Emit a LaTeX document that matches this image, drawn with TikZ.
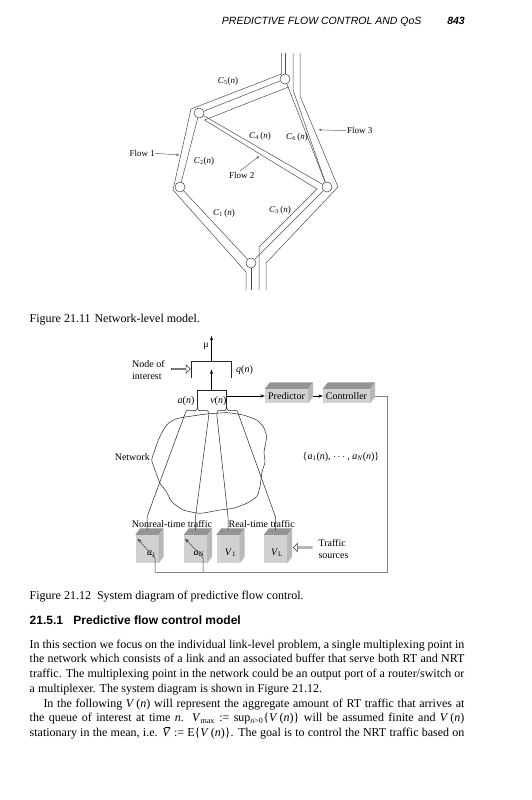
\documentclass[tikz,border=0pt]{standalone}
\usepackage{fontspec}
\setmainfont{Liberation Serif}
\newfontfamily\hsans{Liberation Sans}
\usetikzlibrary{arrows.meta,shapes.arrows}
\newcommand{\ii}[1]{\textit{#1}}
\newcommand{\sbs}[1]{\textsubscript{#1}}
\newcommand{\vbarx}{\makebox[0pt][l]{\hspace{2.6pt}\rule[9.2pt]{5.4pt}{0.45pt}}\textit{V}}
\newcommand{\cubefaces}[1]{%
  \fill[cubetop] (#1.north west) -- ([shift={(5,-6.5)}]#1.north west) -- ([shift={(5,-6.5)}]#1.north east) -- (#1.north east) -- cycle;
  \fill[cubeside] (#1.north east) -- ([shift={(5,-6.5)}]#1.north east) -- ([shift={(5,-6.5)}]#1.south east) -- (#1.south east) -- cycle;}
\begin{document}
\begin{tikzpicture}[x=1pt,y=-1pt,
  net/.style={draw=black!70,line width=0.5pt},
  nd/.style={circle,draw=black!75,fill=white,line width=0.5pt,minimum size=10pt,inner sep=0pt},
  labnine/.style={font=\fontsize{9}{10}\selectfont,inner sep=0pt},
  labten/.style={font=\fontsize{10}{12}\selectfont,inner sep=0pt},
  garrow/.style={draw=black!60,line width=0.5pt,-{Stealth[length=3.5pt,width=2.6pt]}},
  barrow/.style={draw=black,line width=0.5pt,-{Stealth[length=4.5pt,width=3.2pt]}},
  wire/.style={draw=black!85,line width=0.5pt},
  fb/.style={draw=black!50,line width=0.6pt},
  cubefront/.style={fill=black!18,inner sep=0pt,font=\fontsize{10}{12}\selectfont},
  cubetop/.style={fill=black!42},
  cubeside/.style={fill=black!28},
  hollow/.style={single arrow,draw=black!80,fill=white,line width=0.5pt,minimum height=19pt,minimum width=8.5pt,single arrow head extend=1.8pt,single arrow head indent=0pt,inner sep=0pt},
  body/.style={font=\fontsize{12}{14}\selectfont,anchor=base west,inner sep=0pt},
]
\useasboundingbox (0,0) rectangle (531,800);
\fill[white] (0,0) rectangle (531,800);

% ---------- running head ----------
\node[anchor=base east,inner sep=0pt,font=\hsans\itshape\fontsize{10.5}{12}\selectfont] (hdr) at (421.7,24.5) {PREDICTIVE FLOW CONTROL AND QoS};
\node[anchor=base east,inner sep=0pt,font=\hsans\bfseries\itshape\fontsize{10.5}{12}\selectfont] (pg) at (465,24.5) {843};

% ---------- Figure 21.11 ----------
\node[nd] (T) at (285,79) {};
\node[nd] (UL) at (199,113) {};
\node[nd] (LL) at (180,187) {};
\node[nd] (R) at (327,187) {};
\node[nd] (B) at (251,263) {};
\coordinate (Ttop) at (285,53);
\coordinate (Bbot) at (251,290);

% flow 1 outer wall
\draw[net] (281.5,53) -- (281.5,74) -- (191,109) -- (173,190) -- (246,272) -- (246,290);
% flow 3 walls
\draw[net] (293,53) -- (293,90) -- (R);
\draw[net] (300,53) -- (300,96) -- (338,187) -- (266,263) -- (266,290);
% flow 2 wall
\draw[net] (288.5,87) -- (204.5,120) -- (317,189) -- (259,247) -- (259,290);
% links
\draw[net] (Ttop) -- (T);
\draw[net] (T) -- (UL);
\draw[net] (UL) -- (LL);
\draw[net] (LL) -- (B);
\draw[net] (B) -- (Bbot);
\draw[net] (T) -- (R);
\draw[net] (UL) -- (R);
\draw[net] (R) -- (B);

\node[labnine] (c5) at (228,81.7) {\ii{C}\sbs{5}(\ii{n})};
\node[labnine] (c4) at (260,136.7) {\ii{C}\sbs{4}\,(\ii{n})};
\node[labnine] (c6) at (297,137.3) {\ii{C}\sbs{6}\,(\ii{n})};
\node[labnine] (c2) at (204,161.7) {\ii{C}\sbs{2}(\ii{n})};
\node[labnine] (c1) at (224,213.3) {\ii{C}\sbs{1}\,(\ii{n})};
\node[labnine] (c3) at (280,210) {\ii{C}\sbs{3}\,(\ii{n})};

\node[labnine,anchor=east] (f1) at (155,153.3) {Flow 1};
\coordinate (f1t) at (179.5,155);
\draw[garrow] (f1.east) -- (f1t);
\node[labnine] (f2) at (241.7,175.5) {Flow 2};
\coordinate (f2t) at (259.5,156);
\draw[garrow] (f2.north) ++(-2,-1) -- (f2t);
\node[labnine,anchor=west] (f3) at (347,130.7) {Flow 3};
\coordinate (f3t) at (318.5,129.8);
\draw[garrow] (f3.west) ++(-1,0) -- (f3t);

\node[body] (cap1) at (29.5,322) {Figure 21.11\hspace{4pt}Network-level model.};

% ---------- Figure 21.12 ----------
% node of interest (queue)
\coordinate (qa) at (191,378.3);
\coordinate (qb) at (191,361);
\coordinate (qc) at (231.5,361);
\coordinate (qd) at (231.5,378.3);
\draw[wire] (qa) -- (qb) -- (qc) -- (qd);
\coordinate (qout) at (211.5,361);
\coordinate (mutop) at (211.5,336);
\draw[barrow] (qout) -- (mutop);
\node[labten] (mu) at (206,346.5) {μ};
\node[labten,anchor=west] (qn) at (236,370.5) {\ii{q}(\ii{n})};
\node[labten,align=left,anchor=west,font=\fontsize{10}{11.5}\selectfont] (noi) at (132,370) {Node of\\interest};
\node[hollow] (noiarrow) at (180.5,369) {};

% lower box
\coordinate (la) at (197.3,408.3);
\coordinate (lb) at (197.3,390.7);
\coordinate (lc) at (226.7,390.7);
\coordinate (ld) at (226.7,408.3);
\draw[wire] (la) -- (lb) -- (lc) -- (ld);
\coordinate (lin) at (211.5,390.7);
\coordinate (linend) at (211.5,369.5);
\draw[barrow] (lin) -- (linend);
\node[labten] (an) at (186,401) {\ii{a}(\ii{n})};
\node[labten] (vn) at (218.3,401) {\ii{v}(\ii{n})};

% braces
\draw[wire] (185,413.8) -- (186.3,410.6) -- (195.6,410.6) -- (la) -- (199,410.6) -- (207.7,410.6) -- (209,413.8);
\draw[wire] (216.7,413.8) -- (218,410.6) -- (225,410.6) -- (ld) -- (228.4,410.6) -- (237,410.6) -- (238.3,413.8);

% predictor / controller
\node[cubefront,minimum width=43pt,minimum height=14pt] (pred) at (286.5,396) {Predictor};
\cubefaces{pred}
\node[cubefront,minimum width=47pt,minimum height=14pt] (ctrl) at (346.5,396) {Controller};
\cubefaces{ctrl}
\coordinate (vout) at (226.7,396);
\draw[barrow] (vout) -- (pred.west);
\draw[barrow] ([xshift=5pt]pred.east) -- (ctrl.west);

% network blob
\draw[wire] plot[smooth cycle,tension=0.3] coordinates {
(183.3,417.3) (206.7,414) (226.7,412.7) (243.3,415) (256.7,420) (263.3,426.7) (266.7,436.7) (264,452) (265,462) (262,472) (260,486.7) (256.7,496.7) (246.7,503.3) (233.3,508.3) (220,510) (200,513.3) (183.3,510) (172,502) (166,491) (160,483.3) (155,470) (151.7,460) (154.5,451) (158.3,440) (163.3,430) (168.3,423.3) (175,419.3)};
\node[labten] (netlab) at (132.3,457) {Network};
\node[labten] (aset) at (341,457) {\{\ii{a}\sbs{1}(\ii{n}), $\cdots$ , \ii{a}\sbs{\ii{N}}(\ii{n})\}};

% sources
\node[cubefront,minimum width=23pt,minimum height=28pt] (s1) at (147,549) {};
\cubefaces{s1}
\node[cubefront,minimum width=23pt,minimum height=28pt] (s2) at (195.5,549) {};
\cubefaces{s2}
\node[cubefront,minimum width=23pt,minimum height=28pt] (s3) at (228,549) {};
\cubefaces{s3}
\node[cubefront,minimum width=23pt,minimum height=28pt] (s4) at (275.5,549) {};
\cubefaces{s4}
\node[labten] (s1l) at (151.5,554) {\ii{a}\sbs{1}};
\node[labten] (s2l) at (199,553.5) {\ii{a}\sbs{N}};
\node[labten] (s3l) at (230.5,552.5) {\ii{V}\sbs{1}};
\node[labten] (s4l) at (277,552.5) {\ii{V}\sbs{L}};

% traffic lines
\draw[wire] (185,413.8) -- (147,517) -- (147,530);
\draw[wire] (209,413.8) -- (195.5,517) -- (195.5,530);
\draw[wire] (216.7,413.8) -- (228,517) -- (228,530);
\draw[wire] (238.3,413.8) -- (275.5,517) -- (275.5,530);

\node[labten] (nrt) at (172,524.5) {Nonreal-time traffic};
\node[labten] (rt) at (261.7,524.5) {Real-time traffic};
\node[labten,align=left,anchor=west,font=\fontsize{10}{12}\selectfont] (tsrc) at (318.3,549) {Traffic\\sources};
\node[hollow,shape border rotate=180] (tsarrow) at (303,547.5) {};

% feedback
\coordinate (fbA) at (387,396);
\coordinate (fbB) at (387,572);
\coordinate (fbC) at (155,572);
\coordinate (fbD) at (203,572);
\draw[fb] ([xshift=5pt]ctrl.east) -- (fbA) -- (fbB) -- (fbC);
\draw[barrow,draw=black!75] (fbC) -- (155,558.5) -- (137.5,538.5);
\draw[barrow,draw=black!75] (fbD) -- (203,558) -- (185,538.5);

\node[body] (cap2) at (29.5,599) {Figure 21.12\hspace{6pt}System diagram of predictive flow control.};

% ---------- section text ----------
\node[anchor=base west,inner sep=0pt,font=\hsans\bfseries\fontsize{12}{14}\selectfont] (sec) at (29.5,624) {21.5.1\hspace{10.4pt}Predictive flow control model};

\node[body] (p1) at (29.5,648) {\makebox[434.7pt][s]{In this section we focus on the individual link-level problem, a single multiplexing point in}};
\node[body] (p2) at (29.5,662.75) {\makebox[434.7pt][s]{the network which consists of a link and an associated buffer that serve both RT and NRT}};
\node[body] (p3) at (29.5,677.5) {\makebox[434.7pt][s]{traffic. The multiplexing point in the network could be an output port of a router/switch or}};
\node[body] (p4) at (29.5,692.25) {a multiplexer. The system diagram is shown in Figure 21.12.};
\node[body] (p5) at (43.3,707) {\makebox[420.9pt][s]{In the following \ii{V}\,(\ii{n}) will represent the aggregate amount of RT traffic that arrives at}};
\node[body] (p6) at (29.5,721.75) {\makebox[434.7pt][s]{the queue of interest at time \ii{n}. \ii{V}\sbs{max} := sup\sbs{\ii{n}>0}\{\ii{V}\,(\ii{n})\} will be assumed finite and \ii{V}\,(\ii{n})}};
\node[body] (p7) at (29.5,736.5) {\makebox[434.7pt][s]{stationary in the mean, i.e. \vbarx\ := E\{\ii{V}\,(\ii{n})\}. The goal is to control the NRT traffic based on}};
\end{tikzpicture}
\end{document}
